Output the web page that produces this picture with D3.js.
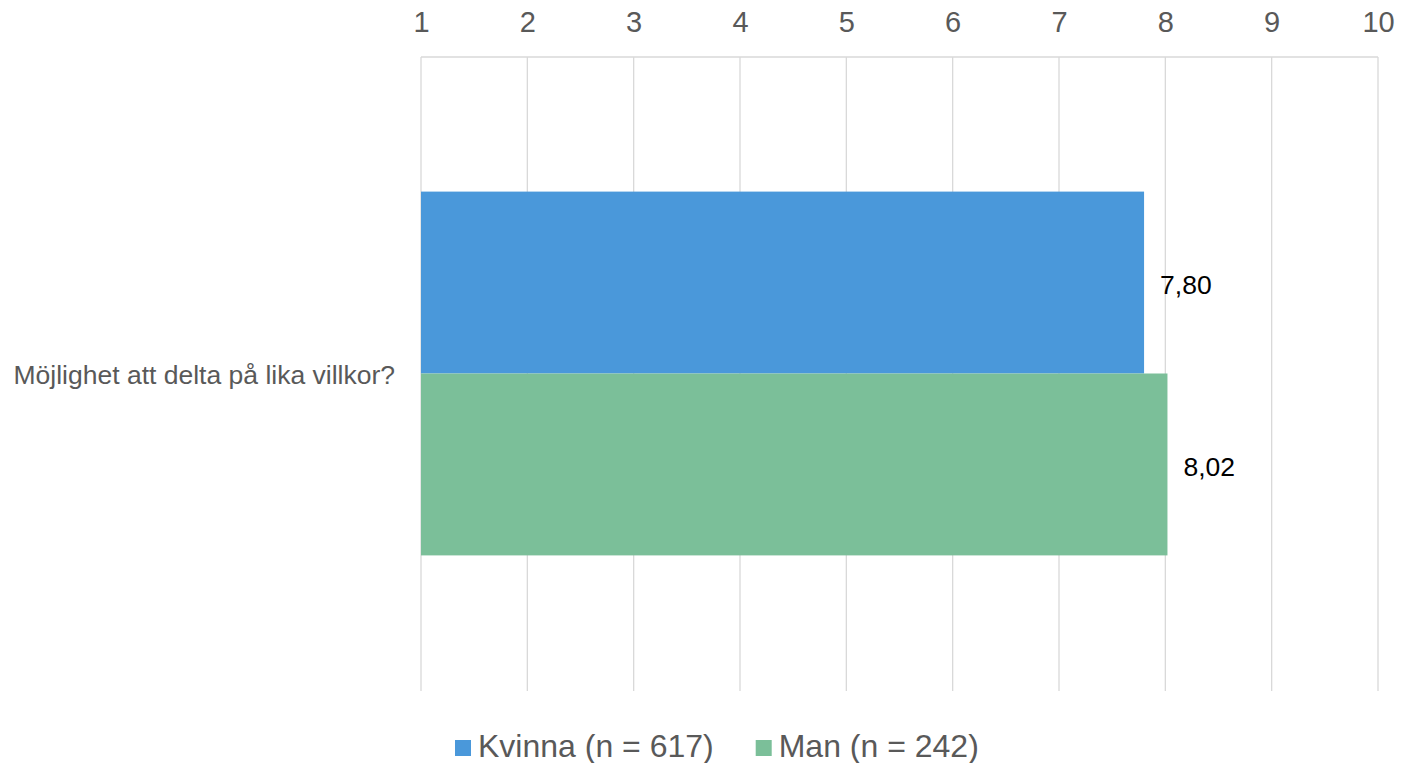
<!DOCTYPE html>
<html>
<head>
<meta charset="utf-8">
<script src="https://cdn.jsdelivr.net/npm/d3@7"></script>
<style>
  html, body { margin: 0; padding: 0; background: #fff; }
  svg { display: block; font-family: "Liberation Sans", Arial, sans-serif; }
</style>
</head>
<body>
<svg id="chart" width="1404" height="763"></svg>
<script>
const categories = ["Möjlighet att delta på lika villkor?"];
const seriesNames = ["Kvinna (n = 617)", "Man (n = 242)"];
const seriesColors = ["#4a98da", "#7bbf99"];
const kvinnaValues = [7.80];
const manValues = [8.02];
const tickValues = [1, 2, 3, 4, 5, 6, 7, 8, 9, 10];

const svg = d3.select("#chart");
const margin = { left: 421, right: 26, top: 57, bottom: 73 };
const W = 1404, H = 763;

const x = d3.scaleLinear().domain([1, 10]).range([margin.left, W - margin.right]);
const y = d3.scaleBand().domain(categories).range([margin.top, H - margin.bottom]).paddingInner(0).paddingOuter(0.37);
const inner = d3.scaleBand().domain(seriesNames).range([0, y.bandwidth()]);

// gridlines
svg.append("g").selectAll("line").data(tickValues).join("line")
  .attr("x1", d => x(d)).attr("x2", d => x(d))
  .attr("y1", margin.top).attr("y2", H - margin.bottom + 1)
  .attr("stroke", "#d9d9d9").attr("stroke-width", 1.3);

// top axis line
svg.append("line")
  .attr("x1", x(1)).attr("x2", x(10))
  .attr("y1", margin.top).attr("y2", margin.top)
  .attr("stroke", "#d9d9d9").attr("stroke-width", 1.3);

// axis labels
const axis = d3.axisTop(x).tickValues(tickValues).tickSize(0).tickPadding(0).tickFormat(d3.format("d"));
const ag = svg.append("g").attr("transform", `translate(0, 32)`).call(axis);
ag.select(".domain").remove();
ag.selectAll("text").attr("font-size", 29).attr("fill", "#595959")
  .attr("font-family", "'Liberation Sans', Arial, sans-serif").attr("dy", 0);

const seriesData = [kvinnaValues, manValues];
const fmt = v => d3.format(".2f")(v).replace(".", ",");

categories.forEach((cat, ci) => {
  seriesNames.forEach((s, si) => {
    const v = seriesData[si][ci];
    const y0 = y(cat) + inner(s);
    svg.append("rect")
      .attr("x", x(1)).attr("y", y0)
      .attr("width", x(v) - x(1)).attr("height", inner.bandwidth())
      .attr("fill", seriesColors[si]);
    svg.append("text")
      .attr("x", x(v) + 16).attr("y", y0 + inner.bandwidth() / 2 + 2)
      .attr("dy", "0.35em")
      .attr("font-size", 26.5).attr("fill", "#000")
      .text(fmt(v));
  });
  svg.append("text")
    .attr("x", 395).attr("y", y(cat) + y.bandwidth() / 2 + 1)
    .attr("dy", "0.35em").attr("text-anchor", "end")
    .attr("font-size", 26.5).attr("fill", "#595959")
    .text(cat);
});

// legend
const lg = svg.append("g");
let lx = 455;
seriesNames.forEach((s, si) => {
  lg.append("rect").attr("x", lx).attr("y", 740).attr("width", 16).attr("height", 16).attr("fill", seriesColors[si]);
  const t = lg.append("text").attr("x", lx + 23).attr("y", 757)
    .attr("font-size", 32).attr("fill", "#595959").text(s);
  lx += 23 + t.node().getComputedTextLength() + 42;
});
</script>
</body>
</html>
